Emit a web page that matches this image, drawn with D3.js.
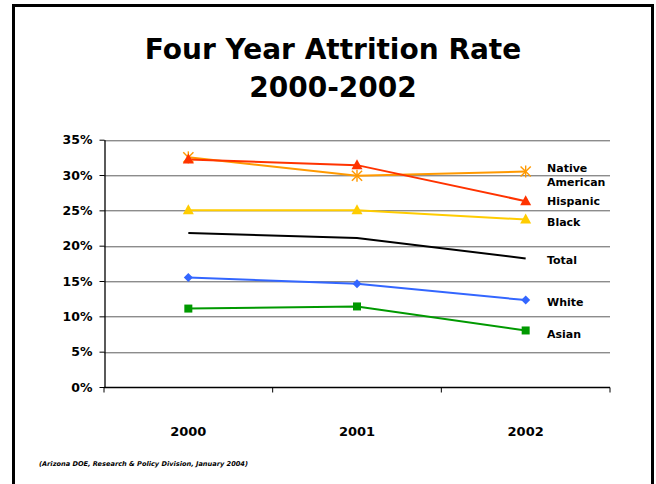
<!DOCTYPE html>
<html>
<head>
<meta charset="utf-8">
<script src="https://cdn.jsdelivr.net/npm/d3@7"></script>
<style>
  html, body { margin: 0; padding: 0; background: #fff; }
  svg { display: block; }
  text { font-family: "DejaVu Sans", Verdana, sans-serif; font-weight: bold; fill: #000; }
</style>
</head>
<body>
<svg id="chart" width="656" height="484"></svg>
<script>
// Four-year attrition rate by group, 2000-2002 (fractions)
const years = ["2000", "2001", "2002"];
const nativeAmerican = [0.325, 0.299, 0.305];
const hispanic       = [0.322, 0.314, 0.263];
const black          = [0.250, 0.250, 0.237];
const total          = [0.218, 0.211, 0.182];
const white          = [0.155, 0.146, 0.123];
const asian          = [0.111, 0.114, 0.080];
const yTicks = [0, 0.05, 0.10, 0.15, 0.20, 0.25, 0.30, 0.35];

const series = [
  { name: ["Native", "American"], values: nativeAmerican, color: "#FF9900", marker: "star",     labelY: 0.310 },
  { name: ["Hispanic"],           values: hispanic,       color: "#FF3300", marker: "triangle", labelY: 0.263 },
  { name: ["Black"],              values: black,          color: "#FFCC00", marker: "triangle", labelY: 0.2335 },
  { name: ["Total"],              values: total,          color: "#000000", marker: null,       labelY: 0.180 },
  { name: ["White"],              values: white,          color: "#3366FF", marker: "diamond",  labelY: 0.120 },
  { name: ["Asian"],              values: asian,          color: "#009900", marker: "square",   labelY: 0.075 }
];

const svg = d3.select("#chart");

// Frame
svg.append("rect")
  .attr("x", 13.5).attr("y", 5.5).attr("width", 639).attr("height", 520)
  .attr("fill", "none").attr("stroke", "#000").attr("stroke-width", 3);

// Title
const title = svg.append("text").attr("text-anchor", "middle")
  .style("font-size", "28px");
title.append("tspan").attr("x", 333).attr("y", 58.5).text("Four Year Attrition Rate");
title.append("tspan").attr("x", 333).attr("y", 97).text("2000-2002");

// Scales
const x = d3.scaleBand().domain(years).range([104, 610]);
const y = d3.scaleLinear().domain([0, 0.35]).range([387, 139.7]);
const xc = d => x(d) + x.bandwidth() / 2;

// Gridlines
const grid = svg.append("g");
yTicks.filter(t => t > 0).forEach(t => {
  grid.append("line")
    .attr("x1", 104).attr("x2", 610)
    .attr("y1", Math.round(y(t)) + 1.5).attr("y2", Math.round(y(t)) + 1.5)
    .attr("stroke", "#d0d0d0").attr("stroke-width", 1);
  grid.append("line")
    .attr("x1", 104).attr("x2", 610)
    .attr("y1", Math.round(y(t)) + 0.5).attr("y2", Math.round(y(t)) + 0.5)
    .attr("stroke", "#8c8c8c").attr("stroke-width", 1);
});

// Y axis
const yAxis = svg.append("g")
  .attr("transform", "translate(104.5,0)")
  .call(d3.axisLeft(y).tickValues(yTicks).tickFormat(d3.format(".0%"))
    .tickSize(5).tickSizeOuter(0).tickPadding(7));
yAxis.select(".domain").attr("stroke", "#000").attr("stroke-width", 1.3);
yAxis.selectAll(".tick line").attr("stroke", "#000");
yAxis.selectAll("text")
  .style("font-family", "'DejaVu Sans', Verdana, sans-serif")
  .style("font-weight", "bold").style("font-size", "12.5px").attr("fill", "#000");

// X axis (ticks at band boundaries)
const xAxisG = svg.append("g").attr("transform", "translate(0," + (y(0) + 0.5) + ")");
xAxisG.append("line").attr("x1", 104).attr("x2", 610).attr("stroke", "#000").attr("stroke-width", 1.3);
[104, ...years.map(d => x(d) + x.bandwidth())].forEach(px => {
  xAxisG.append("line").attr("x1", px).attr("x2", px).attr("y1", 0).attr("y2", 5).attr("stroke", "#000");
});
xAxisG.selectAll("text.year").data(years).join("text")
  .attr("class", "year")
  .attr("x", d => xc(d)).attr("y", 48)
  .attr("text-anchor", "middle").style("font-size", "13px")
  .text(d => d);

// Lines
const line = d3.line().x((d, i) => xc(years[i])).y(d => y(d));
const plot = svg.append("g");
series.forEach(s => {
  plot.append("path")
    .datum(s.values)
    .attr("d", line)
    .attr("fill", "none")
    .attr("stroke", s.color)
    .attr("stroke-width", 2);
});

// Markers
series.forEach(s => {
  if (!s.marker) return;
  const g = plot.append("g");
  s.values.forEach((v, i) => {
    const cx = xc(years[i]), cy = y(v);
    if (s.marker === "star") {
      const r = 6;
      [[0, -r, 0, r], [-r * 0.85, -r * 0.85, r * 0.85, r * 0.85], [-r * 0.85, r * 0.85, r * 0.85, -r * 0.85]]
        .forEach(([a, b, c, d]) => g.append("line")
          .attr("x1", cx + a).attr("y1", cy + b).attr("x2", cx + c).attr("y2", cy + d)
          .attr("stroke", s.color).attr("stroke-width", 1.4));
    } else if (s.marker === "triangle") {
      g.append("path")
        .attr("d", `M${cx},${cy - 6}L${cx + 5.5},${cy + 4}L${cx - 5.5},${cy + 4}Z`)
        .attr("fill", s.color);
    } else if (s.marker === "diamond") {
      g.append("path")
        .attr("d", `M${cx},${cy - 4.5}L${cx + 4.5},${cy}L${cx},${cy + 4.5}L${cx - 4.5},${cy}Z`)
        .attr("fill", s.color);
    } else if (s.marker === "square") {
      g.append("rect")
        .attr("x", cx - 4).attr("y", cy - 4).attr("width", 8).attr("height", 8)
        .attr("fill", s.color);
    }
  });
});

// Series labels
series.forEach(s => {
  const t = svg.append("text").style("font-size", "11px")
    .attr("x", 547).attr("y", y(s.labelY) + 4);
  s.name.forEach((n, k) => t.append("tspan").attr("x", 547).attr("dy", k === 0 ? 0 : 14).text(n));
});

// Source note
svg.append("text")
  .attr("x", 39).attr("y", 466)
  .style("font-size", "6.6px").style("font-style", "italic")
  .text("(Arizona DOE, Research & Policy Division, January 2004)");
</script>
</body>
</html>
